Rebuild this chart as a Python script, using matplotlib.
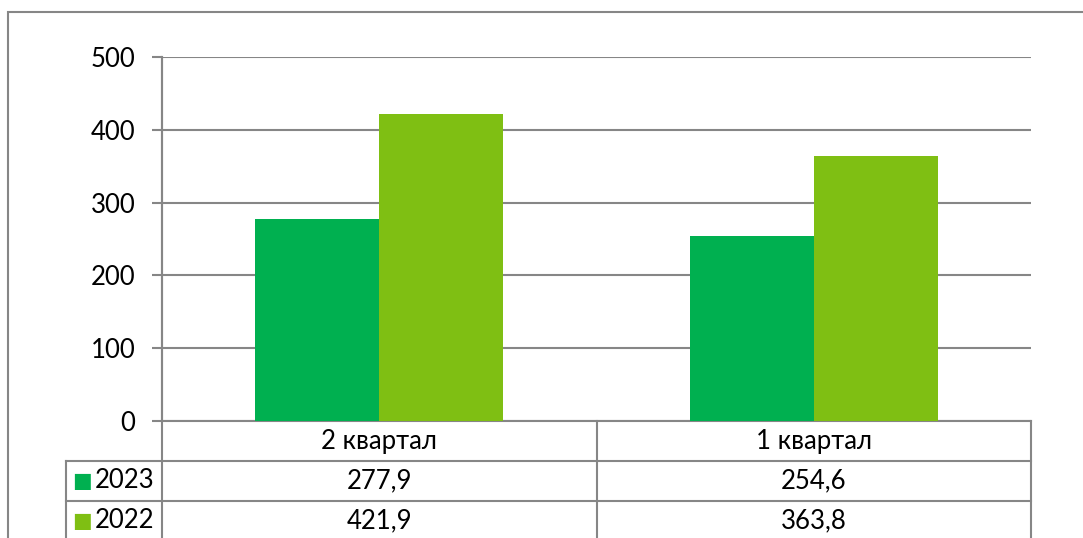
"""Квартальное сравнение 2023 / 2022 — столбцы с таблицей данных."""

import matplotlib
matplotlib.use("Agg")
import matplotlib.pyplot as plt
from matplotlib.patches import Rectangle
from matplotlib.transforms import blended_transform_factory
import numpy as np

CATEGORIES = ["2 квартал", "1 квартал"]
YEARS = ["2023", "2022"]
VALUES_2023 = [277.9, 254.6]
VALUES_2022 = [421.9, 363.8]
LABELS_2023 = ["277,9", "254,6"]
LABELS_2022 = ["421,9", "363,8"]
YTICKS = [0, 100, 200, 300, 400, 500]

COLORS = {"2023": "#00B050", "2022": "#7FBF13"}
GRID = "#868686"
W, H = 1083, 538
FS = 18.5

plt.rcParams.update({
    "font.family": ["Lato", "DejaVu Sans"],
    "font.size": FS,
})


def fx(px):
    return px / W


def fy(py):
    return 1 - py / H


fig = plt.figure(figsize=(W / 100, H / 100), dpi=100)
ax = fig.add_axes([fx(162), fy(421), fx(1031) - fx(162), fy(57) - fy(421)])

x = np.arange(len(CATEGORIES))
bw = 0.285
ax.bar(x - bw / 2, VALUES_2023, bw, color=COLORS["2023"], zorder=3)
ax.bar(x + bw / 2, VALUES_2022, bw, color=COLORS["2022"], zorder=3)

ax.set_xlim(-0.5, len(CATEGORIES) - 0.5)
ax.set_ylim(0, 500)
ax.set_yticks(YTICKS)
ax.set_xticks([])
ax.tick_params(axis="y", length=7, width=1.5, color=GRID, pad=12, labelsize=FS)
for s in ["top", "right", "bottom"]:
    ax.spines[s].set_visible(False)
ax.spines["left"].set_color(GRID)
ax.spines["left"].set_linewidth(1.5)
ax.yaxis.grid(True, color=GRID, linewidth=1.5, zorder=0)
ax.set_axisbelow(True)

# data table under the plot: x in data coordinates, y in axes fraction
tr = blended_transform_factory(ax.transData, ax.transAxes)
row_h = (461 - 421) / (421 - 57)
rows_y = [0, -row_h, -2 * row_h, -3 * row_h]
unit_px = (1031 - 162) / 2
xl = -0.5 - (162 - 66) / unit_px
lk = dict(color=GRID, linewidth=1.5, transform=tr, clip_on=False)

ax.plot([-0.5, 1.5], [0, 0], **lk)
for yy in rows_y[1:]:
    ax.plot([xl, 1.5], [yy, yy], **lk)
ax.plot([-0.5, -0.5], [1, rows_y[-1]], **lk)
ax.plot([0.5, 0.5], [0, rows_y[-1]], **lk)
ax.plot([1.5, 1.5], [0, rows_y[-1]], **lk)
ax.plot([xl, xl], [rows_y[1], rows_y[-1]], **lk)

for i, cat in enumerate(CATEGORIES):
    ax.text(x[i], -row_h / 2, cat, transform=tr, ha="center", va="center")
for r, (year, labels) in enumerate([("2023", LABELS_2023), ("2022", LABELS_2022)]):
    yc = rows_y[r + 1] - row_h / 2
    for i, lab in enumerate(labels):
        ax.text(x[i], yc, lab, transform=tr, ha="center", va="center")
    ax.text(xl + 16 / unit_px, yc, "\u25A0", transform=tr, ha="center", va="center",
            fontsize=15, color=COLORS[year], family=["DejaVu Sans"])
    ax.text(xl + 29 / unit_px, yc, year, transform=tr, ha="left", va="center")

# outer chart frame
fig.patches.append(Rectangle((fx(8), -0.1), 1.2, fy(12) + 0.1, transform=fig.transFigure,
                             fill=False, edgecolor=GRID, linewidth=1.5))

fig.savefig("out.png", dpi=100)
